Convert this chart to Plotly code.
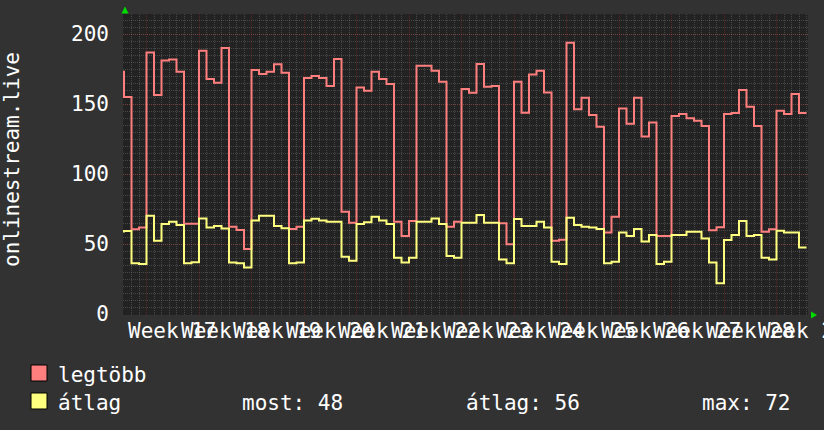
import numpy as np
import plotly.graph_objects as go

# ---- data (daily values, first element is the day before the visible range) ----
day_start = -1
legtobb = [173, 155, 60.5, 61.7, 186.7, 156.4, 181, 181.7, 173, 64.5,
           64.5, 188, 167.9, 165.2, 190, 62.4, 60, 46.4, 174.3, 171.4,
           173, 178.4, 172.4, 60.7, 62.4, 168.6, 170, 168.6, 162.9, 182.1,
           73.1, 65.2, 161.7, 159.5, 173, 167.9, 164.3, 65.9, 55.7, 66.4,
           177.4, 177.4, 173.8, 165.9, 62.4, 65.9, 160.7, 158.1, 178.6, 162.4,
           162.9, 64.8, 49.8, 165.9, 143.8, 171, 173.8, 158.3, 52.4, 53.1,
           193.8, 146.2, 154.5, 142.1, 133.8, 58.3, 69.5, 146.7, 135.9, 154.5,
           126.7, 136.7, 55.7, 55.7, 141.4, 142.9, 139.8, 138.1, 134.3, 59.8,
           61.9, 142.9, 143.6, 160, 148.1, 134.3, 58.8, 60.5, 145.2, 142.9,
           157.1, 143.6]
atlag = [59, 59.3, 36.2, 35.7, 70.2, 52.4, 64.3, 65.9, 63.6, 36.2,
         36.9, 68.3, 61.7, 62.9, 61, 36.7, 36.2, 33.3, 66.7, 70.2,
         70.2, 62.9, 61.2, 36.2, 36.7, 66.7, 68, 66.7, 65.9, 65.9,
         40.9, 38.1, 64.3, 65.5, 69.5, 66.7, 64.3, 40.2, 36.7, 40.2,
         65.9, 65.9, 68.3, 64.3, 41.4, 40.2, 65.2, 65.2, 70.7, 65.2,
         65.2, 39, 36.2, 67.9, 62.9, 62.9, 65.9, 61.7, 37.4, 35.7,
         68.8, 63.6, 62.4, 61.7, 60.7, 36.2, 37.4, 58.3, 55.7, 60.7,
         51.7, 56.4, 35.7, 37.4, 56.4, 56.4, 58.8, 58.8, 54, 36.7,
         21.9, 52.9, 56.4, 66.4, 55.7, 56.4, 40.2, 39, 59.5, 58.3,
         58.3, 47.5]
week_numbers = [17, 18, 19, 20, 21, 22, 23, 24, 25, 26, 27, 28, 29]
week_first_day = 3  # day index of the first Monday
y_ticks = [0, 50, 100, 150, 200]
series_names = ["legtöbb", "átlag"]
stat_labels = ["most", "átlag", "max"]
stat_values = [48, 56, 72]

# ---- style ----
W, H = 824, 430
PL, PR, PT, PB = 123, 808, 14, 315   # plot area in pixels
BG = "#323232"
CANVAS = "#222222"
RED = "#FF7F7F"
YEL = "#FFFF7F"
FONT = "DejaVu Sans Mono"
FS = 21

def xp(px):
    return (px - PL) / (PR - PL)

def yp(py):
    return (PB - py) / (PB - PT)

def step_xy(vals):
    n = len(vals)
    x = np.arange(day_start, day_start + n + 1)
    y = np.append(np.array(vals, dtype=float), vals[-1])
    return x, y

fig = go.Figure()
for vals, col, name in [(legtobb, RED, series_names[0]), (atlag, YEL, series_names[1])]:
    x, y = step_xy(vals)
    fig.add_trace(go.Scatter(x=x, y=y, mode="lines", line=dict(color=col, width=2, shape="hv"),
                             name=name, hoverinfo="skip"))

px_per_day = 7.5
x_range = [-1 / px_per_day, (PR - PL - 1) / px_per_day]
px_per_unit = 1.4
y_range = [-1 / px_per_unit, (PB - 1 - PT) / px_per_unit]

minor_grid = "rgba(150,150,150,0.33)"
major_grid = "rgba(255,50,50,0.26)"

fig.update_xaxes(range=x_range, showticklabels=False, ticks="", zeroline=False,
                 showgrid=True, gridcolor=major_grid, griddash="1px,1px", gridwidth=1,
                 tick0=week_first_day, dtick=7,
                 minor=dict(showgrid=True, tick0=0, dtick=1, gridcolor=minor_grid,
                            griddash="1px,1px", gridwidth=1),
                 showline=False)
fig.update_yaxes(range=y_range, tickvals=y_ticks, ticktext=[str(v) for v in y_ticks],
                 ticks="", zeroline=False, showline=False,
                 showgrid=True, gridcolor=major_grid, griddash="1px,1px", gridwidth=1,
                 minor=dict(showgrid=True, dtick=5, tick0=0, gridcolor=minor_grid,
                            griddash="1px,1px", gridwidth=1),
                 tickfont=dict(family=FONT, size=FS, color="#FFFFFF"),
                 ticklabelstandoff=13)

annotations = []
# week labels centred in each week
for i, wk in enumerate(week_numbers):
    cx = week_first_day + 7 * i + 3.5
    annotations.append(dict(x=cx, xref="x", y=yp(331), yref="paper", text=f"Week {wk}",
                            showarrow=False, xanchor="center", yanchor="middle",
                            font=dict(family=FONT, size=FS, color="#FFFFFF")))
# y title
annotations.append(dict(x=xp(12), y=yp(159), xref="paper", yref="paper", text="onlinestream.live",
                        textangle=-90, showarrow=False, xanchor="center", yanchor="middle",
                        font=dict(family=FONT, size=FS, color="#FFFFFF")))
# legend
annotations.append(dict(x=xp(56), y=yp(375), xref="paper", yref="paper", text=series_names[0],
                        showarrow=False, xanchor="left", yanchor="middle",
                        font=dict(family=FONT, size=FS, color="#FFFFFF")))
annotations.append(dict(x=xp(56), y=yp(403), xref="paper", yref="paper", text=series_names[1],
                        showarrow=False, xanchor="left", yanchor="middle",
                        font=dict(family=FONT, size=FS, color="#FFFFFF")))
for lab, val, px in zip(stat_labels, stat_values, [240, 464, 700]):
    annotations.append(dict(x=xp(px), y=yp(403), xref="paper", yref="paper", text=f"{lab}: {val}",
                            showarrow=False, xanchor="left", yanchor="middle",
                            font=dict(family=FONT, size=FS, color="#FFFFFF")))

shapes = []
for (yt, yb), col in zip([(365, 381), (393, 409)], [RED, YEL]):
    shapes.append(dict(type="rect", xref="paper", yref="paper", x0=xp(31), x1=xp(47),
                       y0=yp(yb), y1=yp(yt), fillcolor=col, line=dict(color="#000000", width=1)))
# green arrows at axis ends
shapes.append(dict(type="path", xref="paper", yref="paper",
                   path=f"M {xp(121.5)} {yp(13.5)} L {xp(128.5)} {yp(13.5)} L {xp(125)} {yp(6.5)} Z",
                   fillcolor="#00DD00", line=dict(color="#00DD00", width=0)))
shapes.append(dict(type="path", xref="paper", yref="paper",
                   path=f"M {xp(811)} {yp(311.5)} L {xp(811)} {yp(318.5)} L {xp(817)} {yp(315)} Z",
                   fillcolor="#00DD00", line=dict(color="#00DD00", width=0)))

fig.update_layout(width=W, height=H, paper_bgcolor=BG, plot_bgcolor=CANVAS,
                  margin=dict(l=PL, r=W - PR, t=PT, b=H - PB, pad=0),
                  showlegend=False, annotations=annotations, shapes=shapes)

fig.write_html("out.html")
